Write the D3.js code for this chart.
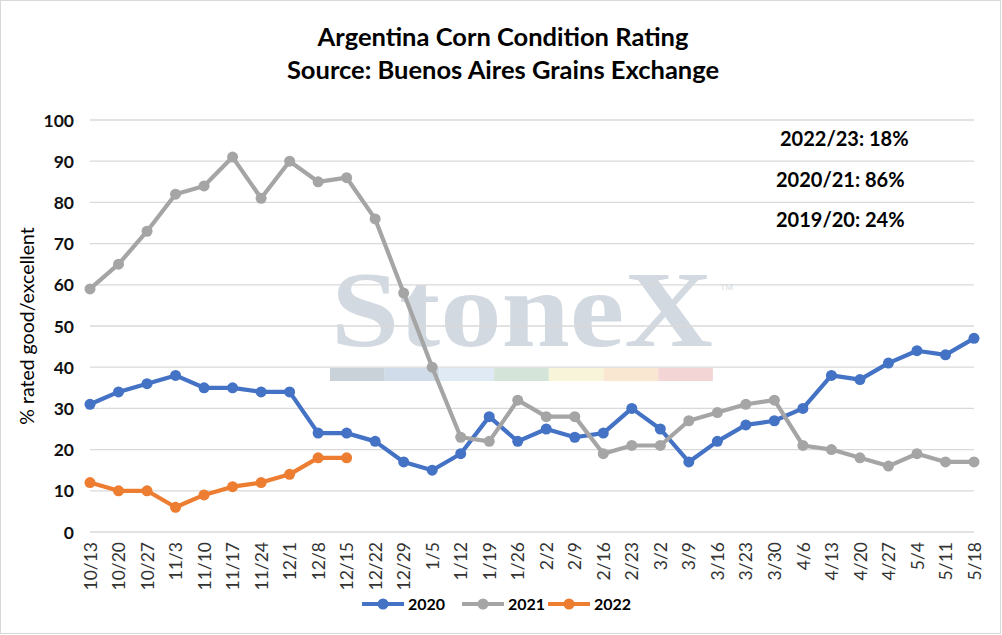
<!DOCTYPE html>
<html><head><meta charset="utf-8">
<script src="https://cdn.jsdelivr.net/npm/d3@7"></script>
<style>body{margin:0;background:#fff}svg{display:block}</style>
</head><body><svg id="c" width="1002" height="635"></svg>
<script>
const categories = ["10/13","10/20","10/27","11/3","11/10","11/17","11/24","12/1","12/8","12/15","12/22","12/29","1/5","1/12","1/19","1/26","2/2","2/9","2/16","2/23","3/2","3/9","3/16","3/23","3/30","4/6","4/13","4/20","4/27","5/4","5/11","5/18"];
const s2020 = [31,34,36,38,35,35,34,34,24,24,22,17,15,19,28,22,25,23,24,30,25,17,22,26,27,30,38,37,41,44,43,47];
const s2021 = [59,65,73,82,84,91,81,90,85,86,76,58,40,23,22,32,28,28,19,21,21,27,29,31,32,21,20,18,16,19,17,17];
const s2022 = [12,10,10,6,9,11,12,14,18,18];
const yTicks = [0,10,20,30,40,50,60,70,80,90,100];
const seriesNames = ["2020","2021","2022"];
const seriesColors = ["#4472c4","#a5a5a5","#ed7d31"];
const notes = ["2022/23: 18%","2020/21: 86%","2019/20: 24%"];
const wmColors = ["#c9d1d9","#d0dce9","#dfeaf4","#d4e4d9","#f8f4da","#f9e7d2","#f3d5d5"];

const svg = d3.select("#c");
const font = "Lato, 'Open Sans', sans-serif";
svg.append("rect").attr("x",0.5).attr("y",0.5).attr("width",1000).attr("height",633)
  .attr("fill","#fff").attr("stroke","#d9d9d9");

const x = d3.scalePoint().domain(categories).range([90,974]);
const y = d3.scaleLinear().domain([0,100]).range([532,120]);

// watermark
const wm = svg.append("g");
wm.append("text").attr("x",522).attr("y",346).attr("text-anchor","middle")
  .attr("font-family","'Liberation Serif', 'DejaVu Serif', serif").attr("font-size",108).attr("font-weight","bold")
  .attr("fill","#d2d9e1").attr("textLength",382).attr("lengthAdjust","spacingAndGlyphs").text("StoneX");
wm.append("text").attr("x",720).attr("y",290).attr("font-family","'Liberation Sans', sans-serif")
  .attr("font-size",9).attr("fill","#d3dae1").text("TM");
wmColors.forEach((c,i)=>wm.append("rect").attr("x",330+i*54.7).attr("y",368).attr("width",54.7).attr("height",13).attr("fill",c));

// grid
svg.append("g").selectAll("line").data(yTicks).join("line")
  .attr("x1",90).attr("x2",974).attr("y1",d=>y(d)).attr("y2",d=>y(d))
  .attr("stroke","#d9d9d9").attr("stroke-width",1.3);

// y axis
const ya = svg.append("g").attr("transform","translate(74,0)")
  .call(d3.axisLeft(y).tickValues(yTicks).tickSize(0).tickPadding(0));
ya.select(".domain").remove();
ya.selectAll("text").attr("font-family",font).attr("font-size",17.5).attr("font-weight","bold").attr("fill","#111").attr("dy","0.35em");

// x axis
const xa = svg.append("g").attr("transform","translate(0,542)")
  .call(d3.axisBottom(x).tickSize(0).tickPadding(0));
xa.select(".domain").remove();
xa.selectAll("text").attr("font-family",font).attr("font-size",17.5).attr("fill","#333")
  .attr("transform","rotate(-90)").attr("text-anchor","end").attr("x",0).attr("y",0).attr("dy","0.35em");

// series
const data = [s2020,s2021,s2022];
const line = d3.line().x((d,i)=>x(categories[i])).y(d=>y(d));
data.forEach((s,k)=>{
  const g = svg.append("g");
  g.append("path").datum(s).attr("d",line).attr("fill","none").attr("stroke",seriesColors[k])
    .attr("stroke-width",4.2).attr("stroke-linejoin","round");
  g.selectAll("circle").data(s).join("circle").attr("cx",(d,i)=>x(categories[i])).attr("cy",d=>y(d))
    .attr("r",5.5).attr("fill",seriesColors[k]);
});

// titles
svg.append("text").attr("x",503).attr("y",46).attr("text-anchor","middle").attr("font-family",font)
  .attr("font-size",25.5).attr("font-weight","bold").attr("fill","#000").text("Argentina Corn Condition Rating");
svg.append("text").attr("x",503).attr("y",79).attr("text-anchor","middle").attr("font-family",font)
  .attr("font-size",25.5).attr("font-weight","bold").attr("fill","#000").text("Source: Buenos Aires Grains Exchange");
svg.append("text").attr("transform","translate(34,326) rotate(-90)").attr("text-anchor","middle")
  .attr("font-family",font).attr("font-size",19.5).attr("fill","#000").text("% rated good/excellent");

// notes
const noteX = [780,776,776], noteY=[146,187,227];
notes.forEach((t,i)=>svg.append("text").attr("x",noteX[i]).attr("y",noteY[i]).attr("font-family",font)
  .attr("font-size",20).attr("font-weight","bold").attr("fill","#000").text(t));

// legend
const lx = [362,462,548];
seriesNames.forEach((n,i)=>{
  const g = svg.append("g");
  g.append("line").attr("x1",lx[i]).attr("x2",lx[i]+42).attr("y1",604).attr("y2",604)
    .attr("stroke",seriesColors[i]).attr("stroke-width",4.2);
  g.append("circle").attr("cx",lx[i]+21).attr("cy",604).attr("r",5.5).attr("fill",seriesColors[i]);
  g.append("text").attr("x",lx[i]+46).attr("y",610).attr("font-family",font).attr("font-size",16)
    .attr("font-weight","bold").attr("fill","#000").text(n);
});
</script></body></html>
